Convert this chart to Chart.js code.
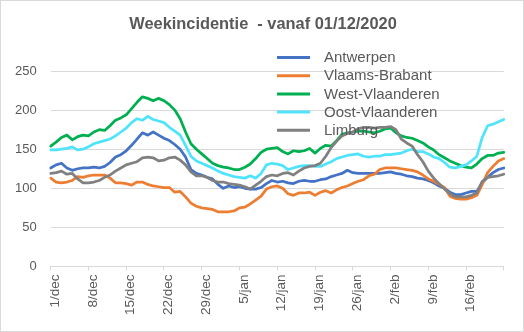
<!DOCTYPE html>
<html>
<head>
<meta charset="utf-8">
<script src="https://cdn.jsdelivr.net/npm/chart.js@4/dist/chart.umd.min.js"></script>
<style>
  html, body { margin: 0; padding: 0; background: #fff; overflow: hidden; }
  canvas { display: block; }
</style>
</head>
<body>
<canvas id="c" width="524" height="332"></canvas>
<script>
// Daily categories, 1 December 2020 to 23 February 2021
const dates = [
  '1/dec','2/dec','3/dec','4/dec','5/dec','6/dec','7/dec','8/dec','9/dec','10/dec',
  '11/dec','12/dec','13/dec','14/dec','15/dec','16/dec','17/dec','18/dec','19/dec','20/dec',
  '21/dec','22/dec','23/dec','24/dec','25/dec','26/dec','27/dec','28/dec','29/dec','30/dec','31/dec',
  '1/jan','2/jan','3/jan','4/jan','5/jan','6/jan','7/jan','8/jan','9/jan','10/jan',
  '11/jan','12/jan','13/jan','14/jan','15/jan','16/jan','17/jan','18/jan','19/jan','20/jan',
  '21/jan','22/jan','23/jan','24/jan','25/jan','26/jan','27/jan','28/jan','29/jan','30/jan','31/jan',
  '1/feb','2/feb','3/feb','4/feb','5/feb','6/feb','7/feb','8/feb','9/feb','10/feb',
  '11/feb','12/feb','13/feb','14/feb','15/feb','16/feb','17/feb','18/feb','19/feb','20/feb',
  '21/feb','22/feb','23/feb'
];

// Weekly incidence per province
const antwerpen = [
  126,130,132,126,123,125,126,126,127,126,128,133,140,143,148,155,163,171,168,172,168,164,
  161,156,150,140,124,119,117,114,112,105,100,103,101,102,100,99,99,101,106,110,108,
  109,107,106,109,110,109,109,111,112,115,117,119,123,120,119,119,119,119,119,120,121,
  119,118,116,115,113,112,110,107,103,100,95,92,92,94,96,96,107,114,120,124,126
];
const vlaamsBrabant = [
  113,108,107,108,110,115,114,116,117,117,117,113,107,107,106,104,108,108,105,103,102,101,
  101,95,96,89,81,77,75,74,73,70,70,70,71,75,76,80,85,90,99,102,103,
  100,93,91,94,94,95,91,95,97,94,98,101,103,106,109,111,116,118,124,126,126,
  126,125,124,123,121,117,112,109,105,101,90,87,86,86,88,91,105,120,128,135,138
];
const westVlaanderen = [
  154,159,165,168,162,166,168,167,172,175,174,180,187,190,194,202,210,217,215,212,215,212,
  207,200,189,172,157,150,144,138,132,129,127,126,124,124,127,131,138,146,150,151,152,
  147,144,148,147,148,151,145,151,155,154,161,169,171,172,173,173,172,171,173,176,177,
  171,167,165,164,161,158,153,149,143,139,135,132,129,127,126,131,138,142,142,145,146
];
const oostVlaanderen = [
  149,149,150,151,153,149,150,153,157,159,161,163,167,172,177,184,189,187,192,188,186,184,
  178,173,168,155,141,135,132,129,126,122,119,117,115,114,113,116,113,119,130,132,131,
  129,124,126,128,129,129,128,128,131,134,138,140,142,143,144,141,140,141,141,143,143,
  144,145,148,150,147,147,144,140,138,133,127,126,128,130,135,141,165,180,182,185,188
];
const limburg = [
  119,120,122,118,119,112,107,107,108,110,114,117,122,126,130,132,134,139,140,139,135,136,
  139,140,136,130,121,116,116,114,110,108,108,106,105,104,102,99,104,109,115,117,116,
  119,120,117,122,126,128,129,132,141,152,160,167,170,172,176,178,178,177,178,178,179,
  175,163,158,154,143,134,122,113,106,99,93,89,89,89,91,94,109,114,115,116,118
];

const seriesNames = ['Antwerpen', 'Vlaams-Brabant', 'West-Vlaanderen', 'Oost-Vlaanderen', 'Limburg'];
const seriesValues = [antwerpen, vlaamsBrabant, westVlaanderen, oostVlaanderen, limburg];
const seriesColors = ['#4472C4', '#ED7D31', '#00B050', '#50E4FC', '#808080'];

const yTicks = [0, 50, 100, 150, 200, 250];
const chartTitle = 'Weekincidentie  - vanaf 01/12/2020';

const FONT = '"Liberation Sans", Arial, sans-serif';
const TEXT = '#595959';
const GRID = '#d9d9d9';
const LAST = dates.length - 1;

// White background, centred title and thin outer frame
const framePlugin = {
  id: 'frame',
  beforeDraw(chart) {
    const ctx = chart.ctx;
    ctx.save();
    ctx.fillStyle = '#fff';
    ctx.fillRect(0, 0, chart.width, chart.height);
    ctx.restore();
  },
  afterDraw(chart) {
    const ctx = chart.ctx;
    ctx.save();
    ctx.font = 'bold 16.4px ' + FONT;
    ctx.fillStyle = TEXT;
    ctx.textAlign = 'center';
    ctx.textBaseline = 'middle';
    ctx.fillText(chartTitle, 263, 24);
    ctx.strokeStyle = GRID;
    ctx.lineWidth = 1;
    ctx.strokeRect(0.5, 0.5, chart.width - 1, chart.height - 1);
    ctx.restore();
  }
};

// Legend drawn inside the plot, top right, above the lines
const insetLegend = {
  id: 'insetLegend',
  afterDatasetsDraw(chart) {
    const ctx = chart.ctx;
    ctx.save();
    ctx.font = '15px ' + FONT;
    ctx.fillStyle = TEXT;
    ctx.textBaseline = 'middle';
    ctx.textAlign = 'left';
    chart.data.datasets.forEach((ds, k) => {
      const y = 57.5 + k * 18.2;
      ctx.strokeStyle = ds.borderColor;
      ctx.lineWidth = 3;
      ctx.lineCap = 'butt';
      ctx.beginPath();
      ctx.moveTo(277, y);
      ctx.lineTo(310, y);
      ctx.stroke();
      ctx.fillText(ds.label, 324, y + 0.5);
    });
    ctx.restore();
  }
};

new Chart(document.getElementById('c'), {
  type: 'line',
  data: {
    labels: dates,
    datasets: seriesNames.map((name, k) => ({
      label: name,
      data: seriesValues[k],
      borderColor: seriesColors[k],
      backgroundColor: seriesColors[k],
      order: seriesNames.length - 1 - k
    }))
  },
  options: {
    responsive: false,
    animation: false,
    devicePixelRatio: 1,
    layout: { padding: { left: 0, right: 18, top: 71, bottom: 0 } },
    elements: {
      point: { radius: 0, hoverRadius: 0 },
      line: { borderWidth: 2.75, tension: 0, borderJoinStyle: 'round', borderCapStyle: 'round', fill: false }
    },
    plugins: {
      legend: { display: false },
      tooltip: { enabled: false },
      title: { display: false }
    },
    scales: {
      x: {
        offset: false,
        grid: { display: true, drawOnChartArea: false, drawTicks: true, tickLength: 4, color: GRID },
        border: { display: true, color: GRID },
        ticks: {
          autoSkip: false,
          minRotation: 90,
          maxRotation: 90,
          padding: 4,
          labelOffset: 4.5,
          color: TEXT,
          font: { family: FONT, size: 13.5 },
          callback: (v, i) => (i % 7 === 0 ? (i < LAST ? dates[i] : '') : null)
        },
        afterFit: s => { s.height = 65.5; }
      },
      y: {
        min: yTicks[0],
        max: yTicks[yTicks.length - 1],
        afterBuildTicks: s => { s.ticks = yTicks.map(v => ({ value: v })); },
        ticks: { padding: 14, color: TEXT, font: { family: FONT, size: 13 } },
        grid: { color: GRID, drawTicks: false },
        border: { display: false },
        afterFit: s => { s.width = 50.7; }
      }
    }
  },
  plugins: [framePlugin, insetLegend]
});
</script>
</body>
</html>
